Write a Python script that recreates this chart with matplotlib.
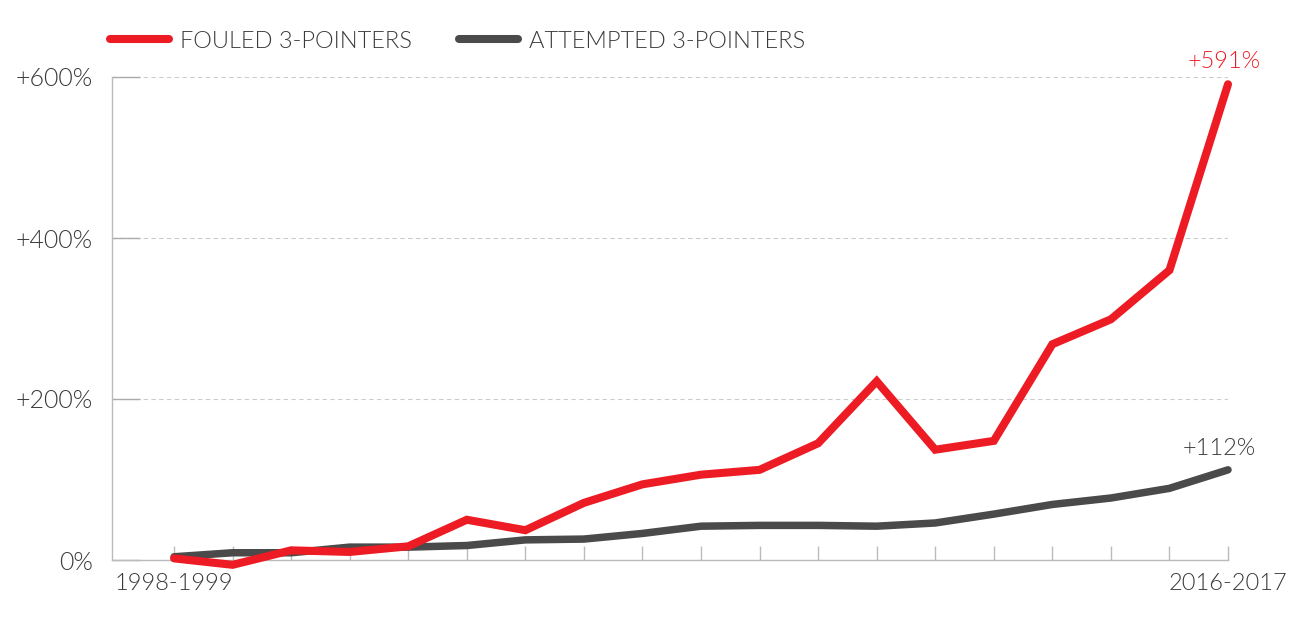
import matplotlib
matplotlib.use("Agg")
import matplotlib.pyplot as plt
from matplotlib.lines import Line2D
from matplotlib import font_manager as fm

seasons = ["1998-1999", "1999-2000", "2000-2001", "2001-2002", "2002-2003", "2003-2004",
           "2004-2005", "2005-2006", "2006-2007", "2007-2008", "2008-2009", "2009-2010",
           "2010-2011", "2011-2012", "2012-2013", "2013-2014", "2014-2015", "2015-2016",
           "2016-2017"]
fouled = [2, -6, 12, 10, 17, 50, 37, 71, 94, 106, 112, 145, 222, 137, 148, 268, 299, 360, 591]
attempted = [4, 9, 9, 16, 16, 18, 25, 26, 33, 42, 43, 43, 42, 46, 57, 69, 77, 89, 112]
yticks = [0, 200, 400, 600]
ytick_labels = ["0%", "+200%", "+400%", "+600%"]

# pick a light (not hairline) face if available
light_file = None
for f in fm.fontManager.ttflist:
    base = f.fname.split("/")[-1].lower()
    if base in ("lato-light.ttf", "lato-light.otf"):
        light_file = f.fname
        break
if light_file:
    FP = fm.FontProperties(fname=light_file)
else:
    FP = fm.FontProperties(family="Lato", weight="normal")

RED = "#ED1C24"
GRAY = "#4A4A4A"
TXT = "#3A3A3A"

def fp(size):
    p = FP.copy()
    p.set_size(size)
    return p

fig = plt.figure(figsize=(12.96, 6.25), dpi=100)
ax = fig.add_axes([112/1296, 1-560/625, (1228-112)/1296, (560-77)/625])

x = list(range(len(seasons)))
ax.plot(x, attempted, color=GRAY, lw=5.4, solid_capstyle="round", clip_on=False, zorder=3)
ax.plot(x, fouled, color=RED, lw=5.8, solid_capstyle="round", solid_joinstyle="miter",
        clip_on=False, zorder=4)

ax.set_xlim(-1.06, 18)
ax.set_ylim(0, 600)

for s in ["top", "right"]:
    ax.spines[s].set_visible(False)
for s in ["left", "bottom"]:
    ax.spines[s].set_color("#BBBBBB")
    ax.spines[s].set_linewidth(1)

ax.set_yticks(yticks)
ax.set_yticklabels(ytick_labels, fontproperties=fp(18), color=TXT)
ax.tick_params(axis="y", direction="in", length=20, color="#AAAAAA", width=1, pad=14)
ax.set_xticks(x)
xl = [""] * len(seasons)
xl[0] = seasons[0]
xl[-1] = seasons[-1]
ax.set_xticklabels(xl, fontproperties=fp(17), color=TXT)
ax.tick_params(axis="x", direction="in", length=10, color="#BBBBBB", width=1, pad=9)

ax.grid(axis="y", color="#CCCCCC", linestyle=(0, (4, 3)), linewidth=0.8)
ax.set_axisbelow(True)

ax.annotate(f"+{fouled[-1]}%", (x[-1], fouled[-1]), xytext=(-3, 9), textcoords="offset points",
            ha="center", va="bottom", fontproperties=fp(17), color=RED)
ax.annotate(f"+{attempted[-1]}%", (x[-1], attempted[-1]), xytext=(-6, 8), textcoords="offset points",
            ha="center", va="bottom", fontproperties=fp(17), color=TXT)

handles = [Line2D([], [], color=RED, lw=5.8, solid_capstyle="round"),
           Line2D([], [], color=GRAY, lw=5.8, solid_capstyle="round")]
fig.legend(handles, ["FOULED 3-POINTERS", "ATTEMPTED 3-POINTERS"], loc="center left",
           bbox_to_anchor=(110/1296, 1-41/625), ncol=2, frameon=False, prop=fp(17),
           handlelength=2.5, handletextpad=0.45, columnspacing=2.0, labelcolor=TXT,
           borderaxespad=0, borderpad=0)

fig.savefig("out.png", dpi=100)
